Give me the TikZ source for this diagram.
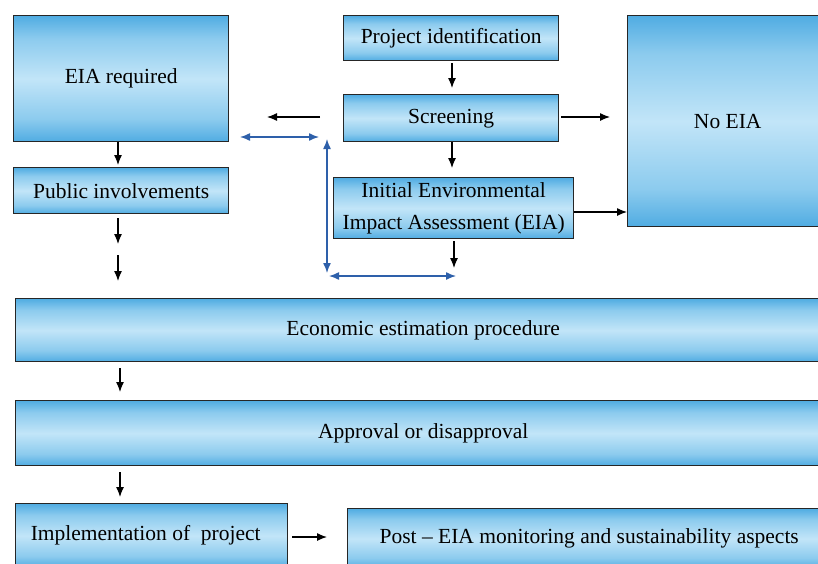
\documentclass[tikz,border=0pt]{standalone}
\usepackage{fontspec}
\setmainfont{Liberation Serif}
\usetikzlibrary{arrows.meta}
\definecolor{cb}{RGB}{80,172,226}
\definecolor{cm}{RGB}{140,203,238}
\definecolor{cl}{RGB}{194,229,248}
\definecolor{bl}{RGB}{46,96,170}
\pgfdeclareverticalshading{boxsh}{100bp}{color(0bp)=(cb); color(25bp)=(cb); color(34bp)=(cm); color(50bp)=(cl); color(66bp)=(cm); color(75bp)=(cb); color(100bp)=(cb)}
\newcommand{\fsz}{\fontsize{21.5}{32}\selectfont}
\tikzset{
  box/.style={draw=black!85, line width=1.4pt, shading=boxsh,
    inner sep=0pt, font=\fsz, align=center, anchor=north west, rectangle},
  arr/.style={-{Latex[length=10pt,width=8pt]}, line width=1.2pt, black},
  barr/.style={{Latex[length=10pt,width=8pt]}-{Latex[length=10pt,width=8pt]}, line width=1.4pt, draw=bl},
}
\begin{document}
\begin{tikzpicture}[x=1pt,y=-1pt]
\useasboundingbox (0,0) rectangle (818,563);
\clip (0,0) rectangle (818,563);
\fill[white] (0,0) rectangle (818,563);
% boxes
\node[box, minimum width=215pt, minimum height=126pt] (eia) at (13,15) {EIA required};
\node[box, minimum width=215pt, minimum height=46pt] (pub) at (13,167) {Public involvements};
\node[box, minimum width=215pt, minimum height=45pt] (proj) at (343,15) {Project identification};
\node[box, minimum width=215pt, minimum height=47pt] (scr) at (343,94) {Screening};
\node[box, minimum width=240pt, minimum height=61pt] (ieia) at (333,177) {Initial Environmental\\Impact Assessment (EIA)};
\node[box, minimum width=200pt, minimum height=211pt] (noeia) at (627,15) {No EIA};
\node[box, minimum width=815pt, minimum height=63pt] (econ) at (15,298) {Economic estimation procedure};
\node[box, minimum width=815pt, minimum height=65pt] (appr) at (15,400) {Approval or disapproval};
\node[box, minimum width=272pt, minimum height=64pt] (impl) at (15,503) {Implementation of\ \ project\hspace*{12pt}};
\node[box, minimum width=483pt, minimum height=60pt] (post) at (347,508) {Post -- EIA monitoring and sustainability aspects};
% free coordinates
\coordinate (p1s) at (118,218);
\coordinate (p1e) at (118,244);
\coordinate (p2s) at (118,255);
\coordinate (p2e) at (118,281);
\coordinate (e1s) at (120,368);
\coordinate (a1s) at (120,472);
\coordinate (la) at (320,117);
\coordinate (lb) at (267,117);
\coordinate (ba) at (240,137);
\coordinate (bb) at (319,137);
\coordinate (bc) at (327,139);
\coordinate (bd) at (327,273);
\coordinate (be) at (329,276);
\coordinate (bf) at (456,276);
\coordinate (ib) at (454,268);
% black arrows
\draw[arr] (eia.south -| 118,0) -- ([yshift=2pt]pub.north -| 118,0);
\draw[arr] (p1s) -- (p1e);
\draw[arr] (p2s) -- (p2e);
\draw[arr] (proj.south -| 452,0) ++(0,2) -- ([yshift=6pt]scr.north -| 452,0);
\draw[arr] (scr.south -| 452,0) -- ([yshift=9pt]ieia.north -| 452,0);
\draw[arr] (ieia.south -| 454,0) ++(0,2) -- (ib);
\draw[arr] ([xshift=2pt]scr.east |- 0,117) -- ([xshift=-17pt]noeia.west |- 0,117);
\draw[arr] (ieia.east |- 0,212) -- (noeia.west |- 0,212);
\draw[arr] (la) -- (lb);
\draw[arr] (e1s) -- ([yshift=8pt]appr.north -| e1s);
\draw[arr] (a1s) -- ([yshift=6pt]impl.north -| a1s);
\draw[arr] ([xshift=4pt]impl.east |- 0,537) -- ([xshift=-20pt]post.west |- 0,537);
% blue arrows
\draw[barr] (ba) -- (bb);
\draw[barr] (bc) -- (bd);
\draw[barr] (be) -- (bf);
\end{tikzpicture}
\end{document}
